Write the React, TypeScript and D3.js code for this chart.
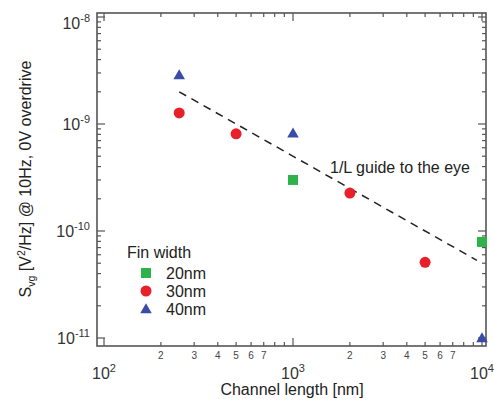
import React from "react";
import * as d3 from "d3";

const lengths20 = [1000, 10000];
const noise20 = [3.0e-10, 7.9e-11];
const lengths30 = [250, 500, 2000, 5000];
const noise30 = [1.27e-9, 8.1e-10, 2.26e-10, 5.1e-11];
const lengths40 = [250, 1000, 10000];
const noise40 = [2.87e-9, 8.2e-10, 1.0e-11];
const guideL = [250, 9400];
const guideK = 5.0e-7; // S = K / L
const xMajor = [100, 1000, 10000];
const xMajorExp = ["2", "3", "4"];
const yMajor = [1e-8, 1e-9, 1e-10, 1e-11];
const yMajorExp = ["-8", "-9", "-10", "-11"];
const minorMult = [2, 3, 4, 5, 6, 7, 8, 9];
const minorLabels = ["2", "3", "4", "5", "6", "7"];
const legendItems = ["20nm", "30nm", "40nm"];

const W = 494, H = 400;
const L = 97, R = 486, T = 13, B = 346;
const font = "'Liberation Sans', Arial, sans-serif";
const axisColor = "#555";
const cGreen = "#2db34a", cRed = "#e8202a", cBlue = "#3b4ca8";

export default function App() {
  const x = d3.scaleLog().domain([Math.pow(10, 2 - 7 / 189), Math.pow(10, 2 + 382 / 189)]).range([L, R]);
  const y = d3.scaleLog().domain([Math.pow(10, -11 - 8 / 107), Math.pow(10, -8 + 4 / 107)]).range([B, T]);

  const xMinor: number[] = [];
  [100, 1000].forEach((d) => minorMult.forEach((m) => xMinor.push(d * m)));
  const yMinor: number[] = [];
  [1e-11, 1e-10, 1e-9].forEach((d) => minorMult.forEach((m) => yMinor.push(d * m)));

  const line = d3.line<number>().x((d) => x(d)).y((d) => y(guideK / d));

  const tri = d3.symbol().type(d3.symbolTriangle).size(58)();
  const sq = d3.symbol().type(d3.symbolSquare).size(100)();

  const marker = (kind: number, cx: number, cy: number, key: string) => {
    if (kind === 0) return <path key={key} d={sq!} transform={`translate(${cx},${cy})`} fill={cGreen} />;
    if (kind === 1) return <circle key={key} cx={cx} cy={cy} r={5.5} fill={cRed} />;
    return <path key={key} d={tri!} transform={`translate(${cx},${cy + 1})`} fill={cBlue} />;
  };

  return (
    <svg width={W} height={H} style={{ position: "absolute", left: 0, top: 0, background: "#fff" }} fontFamily={font}>
      <rect x={0} y={0} width={W} height={H} fill="#fff" />
      {/* ticks */}
      <g stroke={axisColor} strokeWidth={1.2}>
        {xMajor.map((d) => (
          <g key={"xM" + d}>
            <line x1={x(d)} x2={x(d)} y1={B} y2={B - 8} />
            <line x1={x(d)} x2={x(d)} y1={T} y2={T + 8} />
          </g>
        ))}
        {xMinor.map((d) => (
          <g key={"xm" + d}>
            <line x1={x(d)} x2={x(d)} y1={B} y2={B - 4} />
            <line x1={x(d)} x2={x(d)} y1={T} y2={T + 4} />
          </g>
        ))}
        {yMajor.map((d) => (
          <g key={"yM" + d}>
            <line x1={L} x2={L + 8} y1={y(d)} y2={y(d)} />
            <line x1={R} x2={R - 8} y1={y(d)} y2={y(d)} />
          </g>
        ))}
        {yMinor.map((d) => (
          <g key={"ym" + d}>
            <line x1={L} x2={L + 4} y1={y(d)} y2={y(d)} />
            <line x1={R} x2={R - 4} y1={y(d)} y2={y(d)} />
          </g>
        ))}
      </g>
      <rect x={L} y={T} width={R - L} height={B - T} fill="none" stroke={axisColor} strokeWidth={1.6} />

      {/* x tick labels */}
      {xMajor.map((d, i) => (
        <text key={"xl" + d} x={x(d)} y={379} textAnchor="middle" fontSize={16} fill="#333">
          10<tspan dy={-7} fontSize={11}>{xMajorExp[i]}</tspan>
        </text>
      ))}
      {[100, 1000].map((dec) =>
        minorLabels.map((m) => (
          <text key={"xml" + dec + m} x={x(dec * +m)} y={359} textAnchor="middle" fontSize={10} fill="#444">
            {m}
          </text>
        ))
      )}
      {/* y tick labels */}
      {yMajor.map((d, i) => (
        <text key={"yl" + d} x={90} y={Math.max(y(d), 23) + 6} textAnchor="end" fontSize={16} fill="#333">
          10<tspan dy={-7} fontSize={11}>{yMajorExp[i]}</tspan>
        </text>
      ))}

      {/* axis titles */}
      <text x={292} y={395} textAnchor="middle" fontSize={16} fill="#222">Channel length [nm]</text>
      <text transform="translate(31,179) rotate(-90)" textAnchor="middle" fontSize={16} fill="#222">
        S<tspan dy={4} fontSize={10.5}>vg</tspan>
        <tspan dy={-4}> [V</tspan>
        <tspan dy={-6} fontSize={10.5}>2</tspan>
        <tspan dy={6}>/Hz] @ 10Hz, 0V overdrive</tspan>
      </text>

      {/* guide line */}
      <path d={line(guideL)!} fill="none" stroke="#222" strokeWidth={1.5} strokeDasharray="8,6" />
      <text x={330} y={173} fontSize={16} fill="#222">1/L guide to the eye</text>

      {/* data */}
      {lengths20.map((l, i) => marker(0, x(l), y(noise20[i]), "g" + i))}
      {lengths30.map((l, i) => marker(1, x(l), y(noise30[i]), "r" + i))}
      {lengths40.map((l, i) => marker(2, x(l), y(noise40[i]), "b" + i))}

      {/* legend */}
      <text x={127} y={258} fontSize={16} fill="#222">Fin width</text>
      {legendItems.map((t, i) => (
        <g key={"lg" + i}>
          {marker(i, 146, 273 + i * 18, "lm" + i)}
          <text x={166} y={278.5 + i * 18} fontSize={16} fill="#222">{t}</text>
        </g>
      ))}
    </svg>
  );
}
